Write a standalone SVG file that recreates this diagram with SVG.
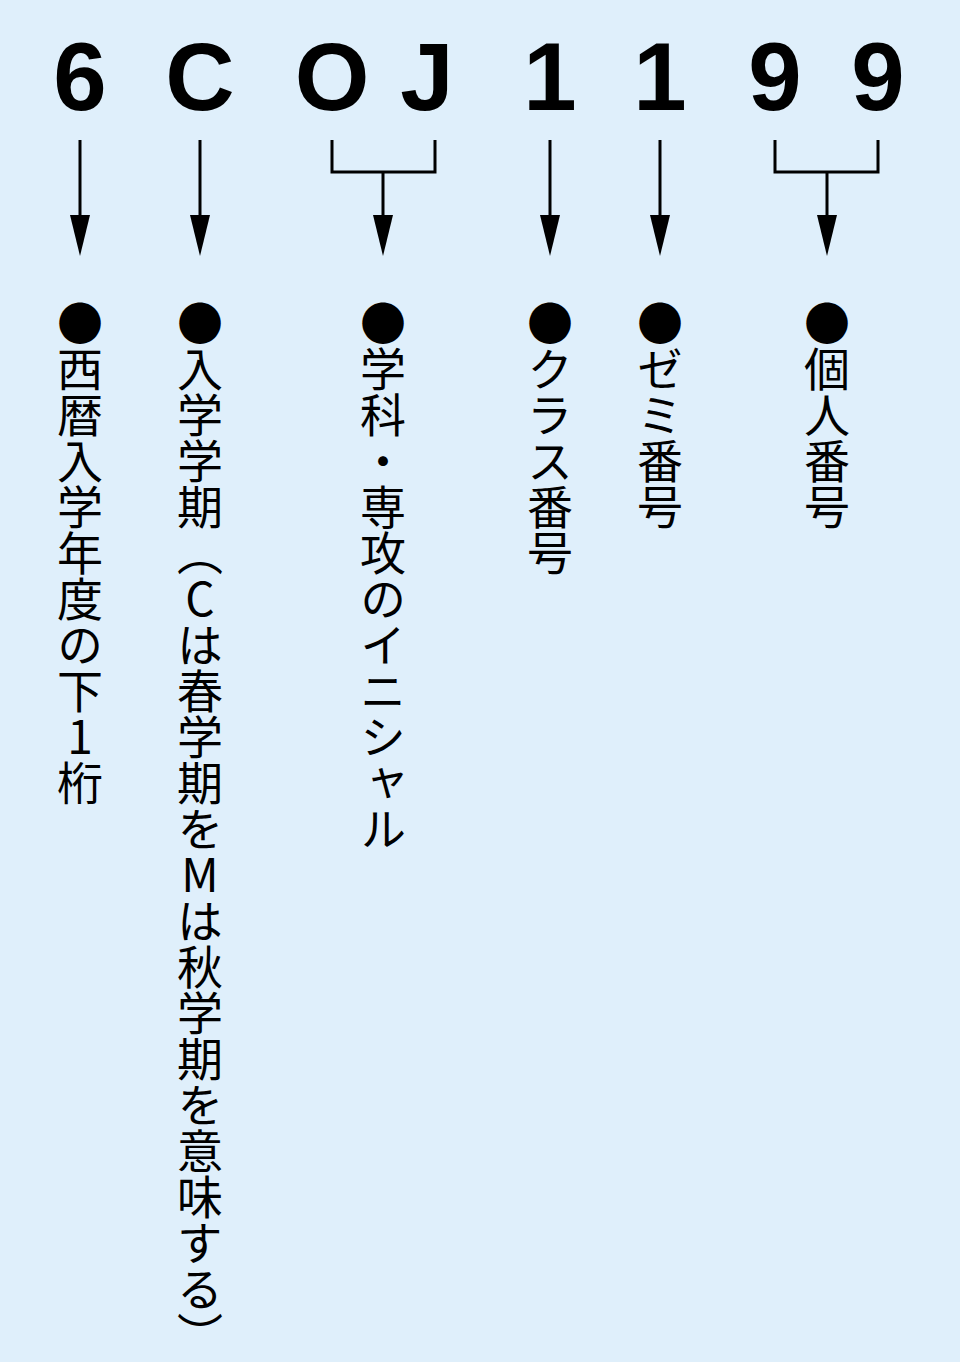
<svg xmlns="http://www.w3.org/2000/svg" width="960" height="1362" viewBox="0 0 960 1362">
<style>
.big{font-family:"Liberation Sans",Arial,sans-serif;font-weight:bold;font-size:96px;text-anchor:middle;fill:#000}
.v{font-family:"Noto Sans CJK JP",sans-serif;font-size:46px;writing-mode:vertical-rl;text-orientation:upright;fill:#000}
.ln{stroke:#000;stroke-width:3;fill:none}
</style>
<defs><marker id="ah" viewBox="0 0 20 40" refX="10" refY="40" markerWidth="20" markerHeight="40" markerUnits="userSpaceOnUse" orient="auto-start-reverse"><path d="M0,0 L20,0 L10,40 Z" fill="#000"/></marker></defs>
<rect width="960" height="1362" fill="#dfeffb"/>
<g id="chars">
<text class="big" x="80" y="110">6</text>
<text class="big" x="200" y="110">C</text>
<text class="big" x="332" y="110">O</text>
<text class="big" x="427" y="110">J</text>
<text class="big" x="550" y="110">1</text>
<text class="big" x="660" y="110">1</text>
<text class="big" x="775" y="110">9</text>
<text class="big" x="878" y="110">9</text>
</g>
<g id="connectors">
<line class="ln" x1="80" y1="140" x2="80" y2="216"/><path d="M70,215 L90,215 L80,256 Z"/>
<line class="ln" x1="200" y1="140" x2="200" y2="216"/><path d="M190,215 L210,215 L200,256 Z"/>
<path class="ln" d="M332,140 V172 H435 V140 M383,172 V216"/><path d="M373,215 L393,215 L383,256 Z"/>
<line class="ln" x1="550" y1="140" x2="550" y2="216"/><path d="M540,215 L560,215 L550,256 Z"/>
<line class="ln" x1="660" y1="140" x2="660" y2="216"/><path d="M650,215 L670,215 L660,256 Z"/>
<path class="ln" d="M775,140 V172 H878 V140 M827,172 V216"/><path d="M817,215 L837,215 L827,256 Z"/>
</g>
<g id="n1"><text class="v" x="80" y="300">●西暦入学年度の下1桁</text></g>
<g id="n2"><text class="v" x="200" y="300">●入学学期（Cは春学期をMは秋学期を意味する）</text></g>
<g id="n3"><text class="v" x="383" y="300">●学科・専攻のイニシャル</text></g>
<g id="n4"><text class="v" x="550" y="300">●クラス番号</text></g>
<g id="n5"><text class="v" x="660" y="300">●ゼミ番号</text></g>
<g id="n6"><text class="v" x="827" y="300">●個人番号</text></g>
</svg>
